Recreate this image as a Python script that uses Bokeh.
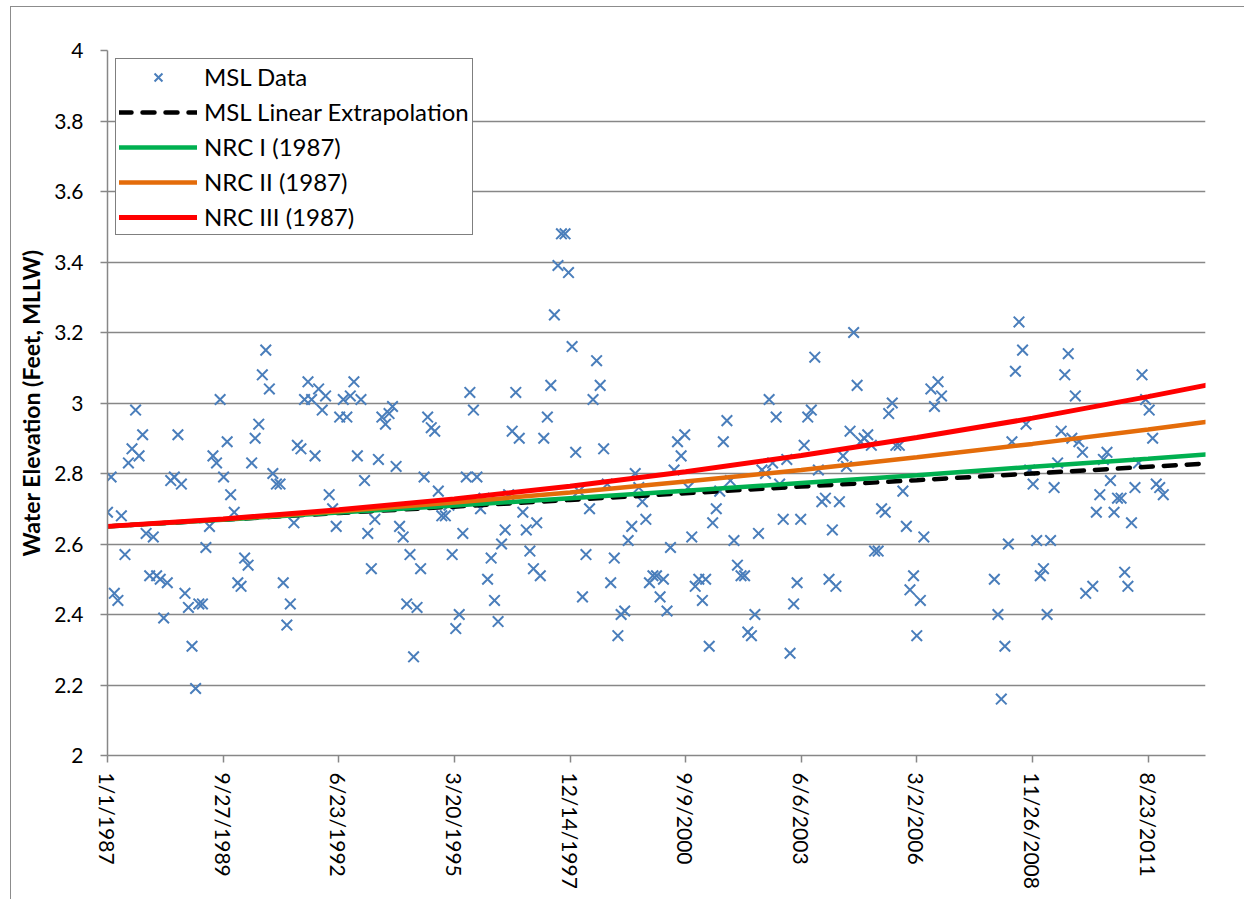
import pandas as pd
from bokeh.plotting import figure
from bokeh.models import FixedTicker, Legend, LegendItem, CustomJSTickFormatter, ColumnDataSource
from bokeh.embed import file_html
from bokeh.resources import INLINE

# ---------------- data ----------------
start_month = "1987-01-01"          # first monthly MSL value
msl_values = [
    2.69, 2.79, 2.46, 2.44, 2.68, 2.57, 2.83, 2.87, 2.98, 2.85, 2.91, 2.63,
    2.51, 2.62, 2.51, 2.50, 2.39, 2.49, 2.78, 2.79, 2.91, 2.77, 2.46, 2.42,
    2.31, 2.19, 2.43, 2.43, 2.59, 2.65, 2.85, 2.83, 3.01, 2.79, 2.89, 2.74,
    2.69, 2.49, 2.48, 2.56, 2.54, 2.83, 2.90, 2.94, 3.08, 3.15, 3.04, 2.80,
    2.77, 2.77, 2.49, 2.37, 2.43, 2.66, 2.88, 2.87, 3.01, 3.06, 3.01, 2.85,
    3.04, 2.98, 3.02, 2.74, 2.70, 2.65, 2.96, 3.01, 2.96, 3.02, 3.06, 2.85,
    3.01, 2.78, 2.63, 2.53, 2.67, 2.84, 2.96, 2.94, 2.97, 2.99, 2.82, 2.65,
    2.62, 2.43, 2.57, 2.28, 2.42, 2.53, 2.79, 2.96, 2.93, 2.92, 2.75, 2.68,
    2.68, 2.71, 2.57, 2.36, 2.40, 2.63, 2.79, 3.03, 2.98, 2.79, 2.70, 2.73,
    2.50, 2.56, 2.44, 2.38, 2.60, 2.64, 2.74, 2.92, 3.03, 2.90, 2.69, 2.64,
    2.58, 2.53, 2.66, 2.51, 2.90, 2.96, 3.05, 3.25, 3.39, 3.48, 3.48, 3.37,
    3.16, 2.86, 2.75, 2.45, 2.57, 2.70, 3.01, 3.12, 3.05, 2.87, 2.77, 2.49,
    2.56, 2.34, 2.40, 2.41, 2.61, 2.65, 2.80, 2.76, 2.72, 2.67, 2.49, 2.51,
    2.51, 2.45, 2.50, 2.41, 2.59, 2.81, 2.89, 2.85, 2.91, 2.76, 2.62, 2.48,
    2.50, 2.44, 2.50, 2.31, 2.66, 2.70, 2.75, 2.89, 2.95, 2.78, 2.61, 2.54,
    2.51, 2.51, 2.35, 2.34, 2.40, 2.63, 2.81, 2.80, 3.01, 2.83, 2.96, 2.77,
    2.67, 2.84, 2.29, 2.43, 2.49, 2.67, 2.88, 2.96, 2.98, 3.13, 2.81, 2.72,
    2.73, 2.50, 2.64, 2.48, 2.72, 2.85, 2.82, 2.92, 3.20, 3.05, 2.89, 2.90,
    2.91, 2.88, 2.58, 2.58, 2.70, 2.69, 2.97, 3.00, 2.88, 2.88, 2.75, 2.65,
    2.47, 2.51, 2.34, 2.44, 2.62, None, 3.04, 2.99, 3.06, 3.02, None, None,
    None, None, None, None, None, None, None, None, None, None, None, None,
    2.50, 2.40, 2.16, 2.31, 2.60, 2.89, 3.09, 3.23, 3.15, 2.94, 2.81, 2.77,
    2.61, 2.51, 2.53, 2.40, 2.61, 2.76, 2.83, 2.92, 3.08, 3.14, 2.90, 3.02,
    2.89, 2.86, 2.46, None, 2.48, 2.69, 2.74, 2.84, 2.86, 2.78, 2.69, 2.73,
    2.73, 2.52, 2.48, 2.66, 2.76, 2.83, 3.08, 3.01, 2.98, 2.90, 2.77, 2.76,
    2.74,
]

x_tick_labels = ["1/1/1987", "9/27/1989", "6/23/1992", "3/20/1995", "12/14/1997",
                 "9/9/2000", "6/6/2003", "3/2/2006", "11/26/2008", "8/23/2011"]
x_axis_end = "12/31/2012"

# projection curves, read at each tick date and at the axis end
curve_dates = x_tick_labels + [x_axis_end]
msl_linear = [2.650, 2.669, 2.688, 2.706, 2.725, 2.744, 2.763, 2.781, 2.800, 2.819, 2.828]
nrc_1 = [2.650, 2.669, 2.689, 2.709, 2.730, 2.751, 2.773, 2.795, 2.819, 2.842, 2.854]
nrc_2 = [2.650, 2.670, 2.693, 2.718, 2.746, 2.777, 2.810, 2.846, 2.884, 2.925, 2.946]
nrc_3 = [2.650, 2.671, 2.697, 2.728, 2.764, 2.805, 2.851, 2.902, 2.957, 3.018, 3.050]

y_ticks = [2.0, 2.2, 2.4, 2.6, 2.8, 3.0, 3.2, 3.4, 3.6, 3.8, 4.0]

# ---------------- derived ----------------
base = pd.to_datetime(x_tick_labels[0], format="%m/%d/%Y")
def to_days(s):
    return int((pd.to_datetime(s, format="%m/%d/%Y") - base).days)

months = pd.date_range(start_month, periods=len(msl_values), freq="MS")
pts_x, pts_y = [], []
for d, v in zip(months, msl_values):
    if v is not None:
        pts_x.append(int((d - base).days))
        pts_y.append(v)

tick_days = [to_days(t) for t in x_tick_labels]
curve_x = [to_days(t) for t in curve_dates]
x_end = to_days(x_axis_end)

FONT = "Lato"
GRID = "#878787"

p = figure(width=1234, height=893, output_backend="svg", toolbar_location=None,
           x_range=(0, x_end), y_range=(2, 4),
           min_border_left=96, min_border_top=43, min_border_right=40, min_border_bottom=145)
p.styles = {"border-left": "1px solid #8c8c8c", "border-top": "1px solid #8c8c8c",
            "margin-left": "10px", "margin-top": "6px"}
p.outline_line_color = None
p.background_fill_color = "white"
p.border_fill_color = "white"

# grid
p.xgrid.visible = False
p.ygrid.grid_line_color = GRID
p.ygrid.grid_line_width = 1.5

# y axis
p.yaxis.ticker = FixedTicker(ticks=y_ticks)
p.yaxis.formatter = CustomJSTickFormatter(code="return String(Math.round(tick*10)/10);")
p.yaxis.minor_tick_line_color = None
p.yaxis.major_tick_in = 0
p.yaxis.major_tick_out = 7
p.yaxis.major_tick_line_color = GRID
p.yaxis.major_tick_line_width = 1.5
p.yaxis.axis_line_color = GRID
p.yaxis.axis_line_width = 1.5
p.yaxis.major_label_text_font = FONT
p.yaxis.major_label_text_font_size = "21px"
p.yaxis.major_label_text_color = "black"
p.yaxis.major_label_standoff = 17
p.yaxis.axis_label = "Water Elevation (Feet, MLLW)"
p.yaxis.axis_label_text_font = FONT
p.yaxis.axis_label_text_font_size = "23px"
p.yaxis.axis_label_text_font_style = "bold"
p.yaxis.axis_label_text_color = "black"
p.yaxis.axis_label_standoff = 6

# x axis
p.xaxis.ticker = FixedTicker(ticks=tick_days)
p.xaxis.formatter = CustomJSTickFormatter(
    args=dict(days=tick_days, labels=x_tick_labels),
    code="const i = days.indexOf(Math.round(tick)); return i >= 0 ? labels[i] : '';")
p.xaxis.minor_tick_line_color = None
p.xaxis.major_tick_in = 0
p.xaxis.major_tick_out = 7
p.xaxis.major_tick_line_color = GRID
p.xaxis.major_tick_line_width = 1.5
p.xaxis.axis_line_color = GRID
p.xaxis.axis_line_width = 1.5
p.xaxis.major_label_orientation = "vertical"
p.xaxis.major_label_text_font = FONT
p.xaxis.major_label_text_font_size = "21px"
p.xaxis.major_label_text_color = "black"
p.xaxis.major_label_standoff = 10

# glyphs
src = ColumnDataSource(dict(x=pts_x, y=pts_y))
r_msl = p.scatter("x", "y", source=src, marker="x", size=15, line_color="#4a7ebb", line_width=2)
r_lin = p.line(curve_x, msl_linear, line_color="black", line_width=4.5, line_dash="12 11", line_cap="round")
r_n1 = p.line(curve_x, nrc_1, line_color="#00b050", line_width=4.5, line_cap="round")
r_n2 = p.line(curve_x, nrc_2, line_color="#e46c0a", line_width=4.5, line_cap="round")
r_n3 = p.line(curve_x, nrc_3, line_color="#ff0000", line_width=5, line_cap="round")

legend = Legend(items=[
    LegendItem(label="MSL Data", renderers=[r_msl]),
    LegendItem(label="MSL Linear Extrapolation", renderers=[r_lin]),
    LegendItem(label="NRC I (1987)", renderers=[r_n1]),
    LegendItem(label="NRC II (1987)", renderers=[r_n2]),
    LegendItem(label="NRC III (1987)", renderers=[r_n3]),
], location="top_left")
legend.margin = 8
legend.padding = 3
legend.spacing = 6
legend.glyph_width = 78
legend.glyph_height = 28
legend.label_height = 20
legend.label_standoff = 7
legend.label_text_font = FONT
legend.label_text_font_size = "24px"
legend.label_text_color = "black"
legend.border_line_color = "black"
legend.border_line_width = 1.5
legend.background_fill_color = "white"
legend.background_fill_alpha = 1.0
p.add_layout(legend)

open("out.html", "w").write(file_html(p, INLINE))
